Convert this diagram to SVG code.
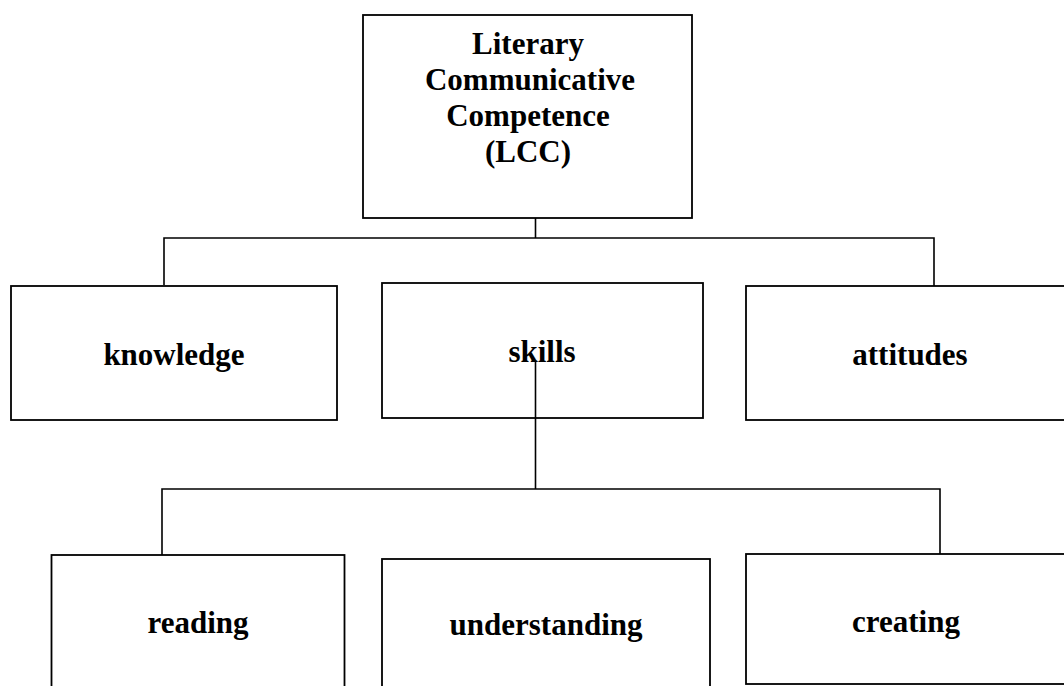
<svg xmlns="http://www.w3.org/2000/svg" width="1064" height="686" viewBox="0 0 1064 686">
<style>
.box{fill:#fff;stroke:#000;stroke-width:1.8}
.ln{fill:none;stroke:#000;stroke-width:1.6}
text{font-family:"Liberation Serif","Times New Roman",serif;font-weight:bold;font-size:31px;fill:#000;text-anchor:middle}
</style>
<rect width="1064" height="686" fill="#fff"/>
<g id="lcc">
<rect class="box" x="363" y="15" width="329" height="203"/>
<text x="528" y="54">Literary</text>
<text x="530" y="90">Communicative</text>
<text x="528" y="126">Competence</text>
<text x="528" y="162">(LCC)</text>
</g>
<g id="knowledge">
<rect class="box" x="11" y="286" width="326" height="134"/>
<text x="174" y="365">knowledge</text>
</g>
<g id="skills">
<rect class="box" x="382" y="283" width="321" height="135"/>
<text x="542" y="362">skills</text>
</g>
<g id="attitudes">
<rect class="box" x="746" y="286" width="330" height="134"/>
<text x="910" y="365">attitudes</text>
</g>
<g id="reading">
<rect class="box" x="51.5" y="555" width="293" height="140"/>
<text x="198" y="633">reading</text>
</g>
<g id="understanding">
<rect class="box" x="382" y="559" width="328" height="136"/>
<text x="546" y="635">understanding</text>
</g>
<g id="creating">
<rect class="box" x="746" y="554" width="330" height="130"/>
<text x="906" y="632">creating</text>
</g>
<g id="connectors">
<path class="ln" d="M535.5 218 V238 M164 285 V238 H934 V286"/>
<path class="ln" d="M535.5 360 V489 M162 555 V489 H940 V554"/>
</g>
</svg>
